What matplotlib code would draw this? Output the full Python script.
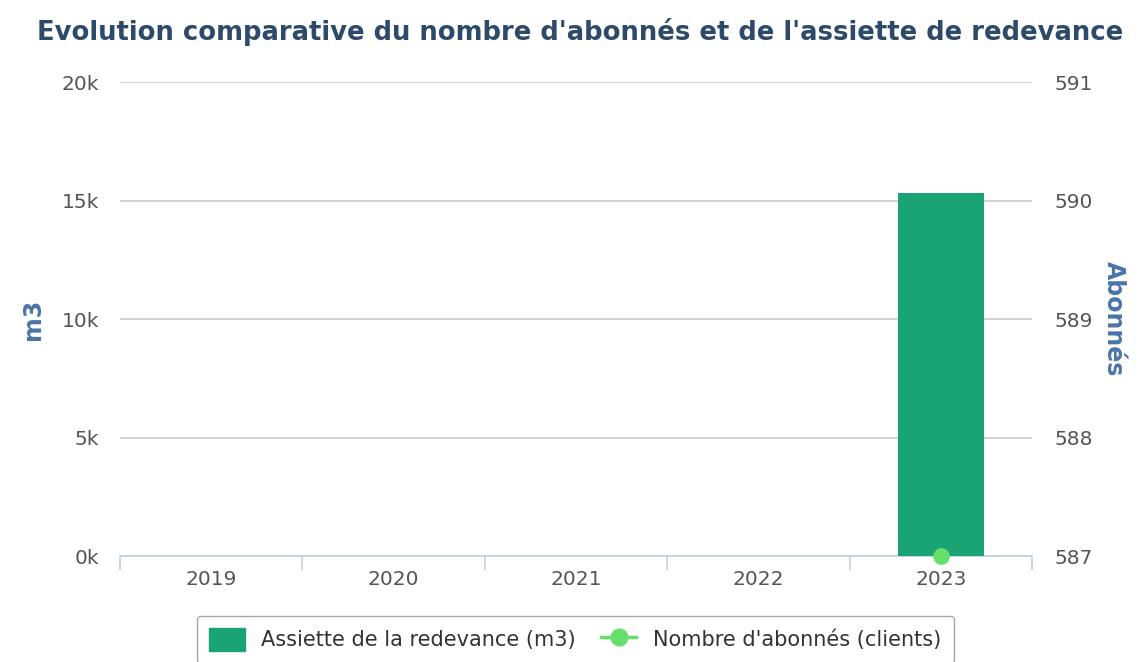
import matplotlib.pyplot as plt
from matplotlib.ticker import FuncFormatter
from matplotlib.lines import Line2D
from matplotlib.patches import Patch
import numpy as np

# data
years = ['2019', '2020', '2021', '2022', '2023']
assiette_m3 = [0, 0, 0, 0, 15300]
abonnes = [None, None, None, None, 587]

bar_color = '#1aa374'
dot_color = '#66e06a'
title_color = '#2e4a6b'
label_color = '#4a74a8'
tick_color = '#555555'

plt.rcParams['font.family'] = ['DejaVu Sans']

fig = plt.figure(figsize=(11.48, 6.62), dpi=100)
ax = fig.add_axes([0.1045, 0.160, 0.7945, 0.716])
ax2 = ax.twinx()

x = np.arange(len(years))
ax.bar(x, assiette_m3, width=0.47, color=bar_color, zorder=3)

ab = np.array([np.nan if v is None else v for v in abonnes], dtype=float)
ax2.plot(x, ab, color=dot_color, marker='o', markersize=11, linewidth=2,
         zorder=4, clip_on=False)

ax.set_xlim(-0.5, len(years) - 0.5)
ax.set_ylim(0, 20000)
ax.set_yticks([0, 5000, 10000, 15000, 20000])
ax.yaxis.set_major_formatter(FuncFormatter(lambda v, p: f'{int(v / 1000)}k'))
ax2.set_ylim(587, 591)
ax2.set_yticks([587, 588, 589, 590, 591])

ax.grid(axis='y', color='#c8c8c8', linewidth=1.2, zorder=0)
ax.set_xticks(x)
ax.set_xticklabels(years)
ax.set_xticks(np.arange(len(years) + 1) - 0.5, minor=True)
ax.tick_params(axis='x', which='major', length=0, pad=10, labelsize=14.5, labelcolor=tick_color)
ax.tick_params(axis='x', which='minor', length=10, color='#c0d0e0', width=1.2)
ax.tick_params(axis='y', length=0, pad=15, labelsize=14.5, labelcolor=tick_color)
ax2.tick_params(axis='y', length=0, pad=16, labelsize=14.5, labelcolor=tick_color)

for a in (ax, ax2):
    for s in ('top', 'left', 'right'):
        a.spines[s].set_visible(False)
ax.spines['bottom'].set_color('#c0d0e0')
ax.spines['bottom'].set_linewidth(1.2)
ax2.spines['bottom'].set_visible(False)

ax.set_ylabel('m3', color=label_color, fontsize=17, fontweight='bold', labelpad=12)
ax2.set_ylabel('Abonnés', color=label_color, fontsize=17, fontweight='bold',
               rotation=-90, labelpad=24)

fig.text(0.505, 0.952, "Evolution comparative du nombre d'abonnés et de l'assiette de redevance",
         ha='center', va='center', fontsize=18.6, fontweight='bold', color=title_color)

handles = [Patch(facecolor=bar_color, edgecolor=bar_color),
           Line2D([0], [0], color=dot_color, marker='o', markersize=12, linewidth=2.5)]
leg = fig.legend(handles, ['Assiette de la redevance (m3)', "Nombre d'abonnés (clients)"],
                 loc='center', bbox_to_anchor=(0.501, 0.034), ncol=2, frameon=True,
                 fontsize=15, fancybox=True, edgecolor='#909090', handlelength=1.7,
                 handleheight=1.3, columnspacing=1.2, borderpad=0.6)
for t in leg.get_texts():
    t.set_color('#333333')

fig.savefig('out.png', dpi=100)
